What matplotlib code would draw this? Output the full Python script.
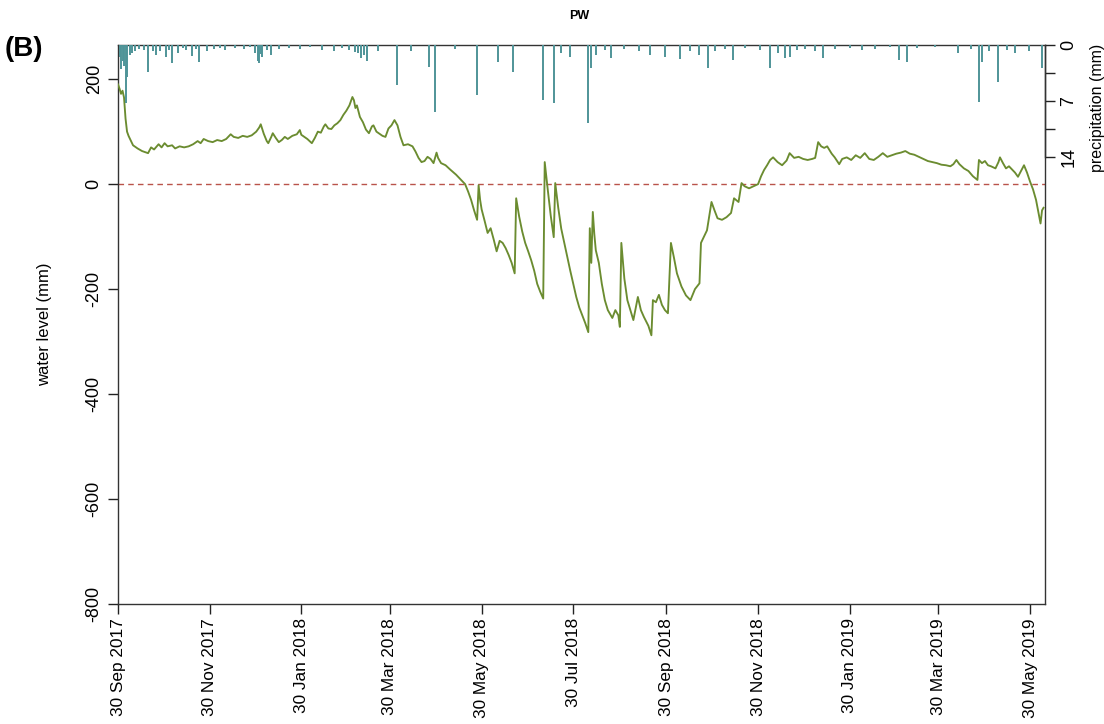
import datetime as dt
import matplotlib
matplotlib.use("Agg")
import matplotlib.pyplot as plt

plt.rcParams['font.family'] = ['Liberation Sans', 'DejaVu Sans']

# ---- data -------------------------------------------------------------
start_date = "2017-09-30"

# water level series: days since start_date, level in mm
level_day = [0, 1, 2, 3, 4, 5, 6, 7, 9, 10, 13, 16, 20, 22, 24, 27, 29, 31, 33, 36,
             38, 41, 44, 47, 50, 53, 55, 57, 60, 63, 66, 69, 72, 75, 77, 80, 83, 86, 89, 92,
             94, 95, 97, 99, 100, 102, 103, 105, 107, 109, 111, 113, 116, 119, 121, 122, 124, 126, 129, 131,
             133, 135, 137, 138, 140, 142, 144, 146, 148, 150, 152, 154, 156, 157, 158, 159, 161, 163, 165, 167,
             169, 170, 172, 174, 176, 178, 180, 182, 184, 186, 188, 190, 193, 196, 198, 200, 202, 204, 206, 208,
             210, 212, 213, 215, 218, 221, 223, 225, 227, 229, 231, 233, 235, 237, 239, 240, 241, 242, 244, 246,
             248, 250, 252, 254, 256, 258, 260, 262, 264, 265, 267, 269, 271, 273, 275, 277, 279, 281, 283, 284,
             286, 288, 290, 291, 293, 295, 297, 299, 301, 303, 305, 307, 309, 311, 313, 314, 315, 316, 317, 318,
             320, 322, 324, 326, 329, 331, 333, 334, 335, 337, 339, 341, 343, 346, 348, 350, 353, 355, 356, 358,
             360, 362, 364, 366, 368, 370, 372, 375, 378, 381, 384, 387, 388, 390, 392, 393, 395, 397, 399, 402,
             405, 408, 410, 413, 415, 417, 420, 423, 426, 428, 430, 432, 434, 436, 439, 442, 445, 447, 450, 453,
             456, 459, 462, 464, 466, 468, 470, 472, 475, 477, 480, 482, 485, 488, 491, 494, 497, 500, 503, 506,
             509, 512, 515, 518, 521, 524, 527, 530, 533, 536, 539, 542, 545, 548, 551, 554, 556, 558, 560, 563,
             566, 569, 572, 573, 575, 577, 579, 581, 584, 586, 587, 589, 591, 593, 595, 597, 599, 601, 603, 605,
             607, 609, 611, 613, 614, 615, 616]
level_mm = [190, 182, 172, 178, 165, 125, 100, 92, 80, 74, 68, 63, 59, 70, 66, 76, 70, 78, 72, 74,
            68, 72, 70, 72, 76, 82, 78, 86, 82, 80, 84, 82, 86, 95, 90, 88, 92, 90, 93, 100,
            108, 114, 96, 82, 78, 90, 97, 88, 80, 84, 90, 86, 92, 95, 103, 94, 90, 86, 78, 88,
            100, 98, 110, 114, 106, 105, 112, 116, 122, 132, 140, 150, 166, 160, 145, 150, 128, 118, 104, 97,
            110, 112, 100, 96, 92, 90, 106, 112, 122, 112, 90, 74, 76, 72, 62, 50, 42, 44, 52, 48,
            40, 60, 50, 40, 36, 28, 23, 18, 12, 6, 0, -14, -30, -50, -68, -2, -30, -48, -70, -93,
            -84, -105, -128, -108, -112, -122, -135, -150, -170, -27, -62, -90, -112, -128, -145, -165, -190, -205, -218, 42,
            -10, -60, -101, 2, -45, -85, -112, -140, -165, -190, -215, -235, -250, -265, -282, -84, -150, -53, -95, -126,
            -150, -190, -221, -240, -255, -240, -250, -272, -112, -180, -221, -240, -259, -215, -240, -253, -270, -288, -221, -225,
            -211, -230, -240, -246, -112, -140, -170, -195, -212, -221, -200, -189, -112, -100, -88, -70, -34, -50, -65, -68,
            -63, -55, -27, -34, 2, -4, -8, -4, 0, 15, 27, 36, 46, 51, 42, 36, 45, 59, 50, 52,
            48, 46, 48, 50, 80, 72, 69, 72, 58, 51, 38, 48, 51, 46, 55, 50, 59, 48, 46, 52,
            59, 52, 55, 58, 60, 63, 58, 56, 52, 48, 44, 42, 40, 37, 36, 34, 38, 46, 38, 30,
            25, 15, 8, 46, 40, 44, 36, 34, 30, 42, 51, 40, 30, 34, 28, 22, 14, 25, 36, 22,
            5, -10, -30, -60, -75, -50, -45]

# daily precipitation (mm)
precip_date = ["2017-10-01", "2017-10-02", "2017-10-03", "2017-10-04", "2017-10-05", "2017-10-06",
               "2017-10-08", "2017-10-09", "2017-10-11", "2017-10-14", "2017-10-17",
               "2017-10-20", "2017-10-23", "2017-10-25", "2017-10-28", "2017-11-01", "2017-11-03",
               "2017-11-05", "2017-11-09", "2017-11-12",
               "2017-11-14", "2017-11-18", "2017-11-21", "2017-11-23", "2017-11-28", "2017-12-03",
               "2017-12-07", "2017-12-10",
               "2017-12-17", "2017-12-23", "2017-12-27", "2017-12-30", "2018-01-01", "2018-01-02",
               "2018-01-03", "2018-01-04", "2018-01-07",
               "2018-01-10", "2018-01-15", "2018-01-22", "2018-01-29", "2018-02-05", "2018-02-13",
               "2018-02-21", "2018-02-26", "2018-03-03", "2018-03-07", "2018-03-09", "2018-03-11",
               "2018-03-13", "2018-03-15", "2018-03-22",
               "2018-04-04", "2018-04-13", "2018-04-25", "2018-04-29", "2018-05-12", "2018-05-27",
               "2018-06-10", "2018-06-20", "2018-07-10", "2018-07-17", "2018-07-22", "2018-07-28",
               "2018-08-09", "2018-08-11", "2018-08-14", "2018-08-20", "2018-08-24", "2018-09-02",
               "2018-09-12", "2018-09-19", "2018-09-29", "2018-10-09", "2018-10-16", "2018-10-22",
               "2018-10-28", "2018-11-01", "2018-11-08", "2018-11-13", "2018-11-21", "2018-12-01",
               "2018-12-08", "2018-12-13", "2018-12-18", "2018-12-21", "2018-12-26", "2018-12-31",
               "2019-01-07", "2019-01-12", "2019-01-20", "2019-01-30", "2019-02-07", "2019-02-16",
               "2019-02-26", "2019-03-04", "2019-03-09", "2019-03-16", "2019-03-28", "2019-04-12",
               "2019-04-21", "2019-04-26", "2019-04-28", "2019-05-03", "2019-05-09", "2019-05-15",
               "2019-05-20", "2019-05-29", "2019-06-07"]
precip_mm = [1.5, 3.0, 2.0, 2.6, 7.2, 4.0,
             1.2, 1.0, 0.8, 0.5, 0.6,
             3.4, 0.7, 1.2, 0.8, 1.5, 0.6,
             2.3, 1.0, 0.4,
             0.6, 1.4, 0.5, 2.1, 0.7, 0.5,
             0.4, 0.6,
             0.4, 0.5, 0.3, 1.0, 2.0, 2.3,
             1.1, 1.5, 0.6,
             1.2, 0.5, 0.4, 0.5, 0.3, 0.6,
             0.8, 0.4, 0.6, 0.9, 1.0, 1.6,
             1.2, 2.0, 0.8,
             5.0, 0.8, 2.7, 8.4, 0.5, 6.3,
             2.1, 3.4, 6.9, 7.3, 1.0, 1.5,
             9.8, 2.9, 1.2, 0.6, 1.6, 0.5,
             0.8, 1.2, 1.5, 1.8, 0.8, 1.2,
             2.9, 0.8, 0.5, 1.9, 0.4, 0.6,
             2.9, 1.0, 1.6, 1.5, 0.6, 0.5,
             0.8, 1.6, 0.5, 0.4, 0.6, 0.5,
             0.3, 1.9, 2.1, 0.4, 0.3, 1.0,
             0.5, 7.1, 2.1, 0.8, 4.6, 0.6,
             1.0, 0.7, 2.9]

tick_dates = ["2017-09-30", "2017-11-30", "2018-01-30", "2018-03-30", "2018-05-30", "2018-07-30",
              "2018-09-30", "2018-11-30", "2019-01-30", "2019-03-30", "2019-05-30"]
tick_labels = ["30 Sep 2017", "30 Nov 2017", "30 Jan 2018", "30 Mar 2018", "30 May 2018",
               "30 Jul 2018", "30 Sep 2018", "30 Nov 2018", "30 Jan 2019", "30 Mar 2019",
               "30 May 2019"]
level_ticks = [200, 0, -200, -400, -600, -800]
precip_ticks = [0, 3.5, 7, 10.5, 14]
precip_labels = ["0", "", "7", "", "14"]

# ---- figure -----------------------------------------------------------
def to_date(s):
    return dt.datetime.strptime(s, "%Y-%m-%d")

t0 = to_date(start_date)
level_t = [t0 + dt.timedelta(days=d) for d in level_day]
precip_t = [to_date(s) for s in precip_date]

fig = plt.figure(figsize=(11.04, 7.24), dpi=100)
ax = fig.add_axes([0.1069, 0.1657, 0.8397, 0.7721])

line_col = "#6b8c30"
rain_col = "#4f9498"

ax.plot(level_t, level_mm, color=line_col, lw=1.35, zorder=3)
ax.axhline(0, color="#b9534a", lw=1.0, ls=(0, (4, 3)), zorder=2)

ax.set_xlim(t0, t0 + dt.timedelta(days=617))
ax.set_ylim(-800, 265)

ax.set_xticks([to_date(s) for s in tick_dates])
ax.set_xticklabels(tick_labels, rotation=90, fontsize=12.4)
ax.set_yticks(level_ticks)
ax.set_yticklabels([str(v) for v in level_ticks], rotation=90, va="center", fontsize=13)
ax.tick_params(axis="x", direction="out", length=7, width=1.0, color="#222222", pad=3)
ax.tick_params(axis="y", direction="out", length=7, width=1.0, color="#222222", pad=4)
ax.set_ylabel("water level (mm)", fontsize=12)
ax.yaxis.set_label_coords(-0.071, 0.5)
for sp in ax.spines.values():
    sp.set_linewidth(1.0)
    sp.set_color("#333333")

# precipitation hanging from the top on an inverted secondary axis
ax2 = ax.twinx()
ax2.vlines(precip_t, 0, precip_mm, color=rain_col, lw=1.4, zorder=3)
ax2.set_ylim(69.9, 0)
ax2.set_yticks(precip_ticks)
ax2.set_yticklabels(precip_labels, rotation=90, va="center", fontsize=13)
ax2.tick_params(axis="y", direction="out", length=7, width=1.0, color="#222222", pad=4)
ax2.spines["right"].set_bounds(0, 14)
ax2.spines["right"].set_linewidth(1.0)
ax2.spines["right"].set_color("#333333")
for side in ("left", "top", "bottom"):
    ax2.spines[side].set_visible(False)
ax2.set_ylabel("precipitation (mm)", fontsize=11.5)
ax2.yaxis.set_label_coords(1.049, 0.887)

fig.text(0.525, 0.978, "PW", ha="center", va="center", fontsize=9, fontweight="bold")
fig.text(0.004, 0.932, "(B)", ha="left", va="center", fontsize=20, fontweight="bold")

fig.savefig("out.png", dpi=100)
